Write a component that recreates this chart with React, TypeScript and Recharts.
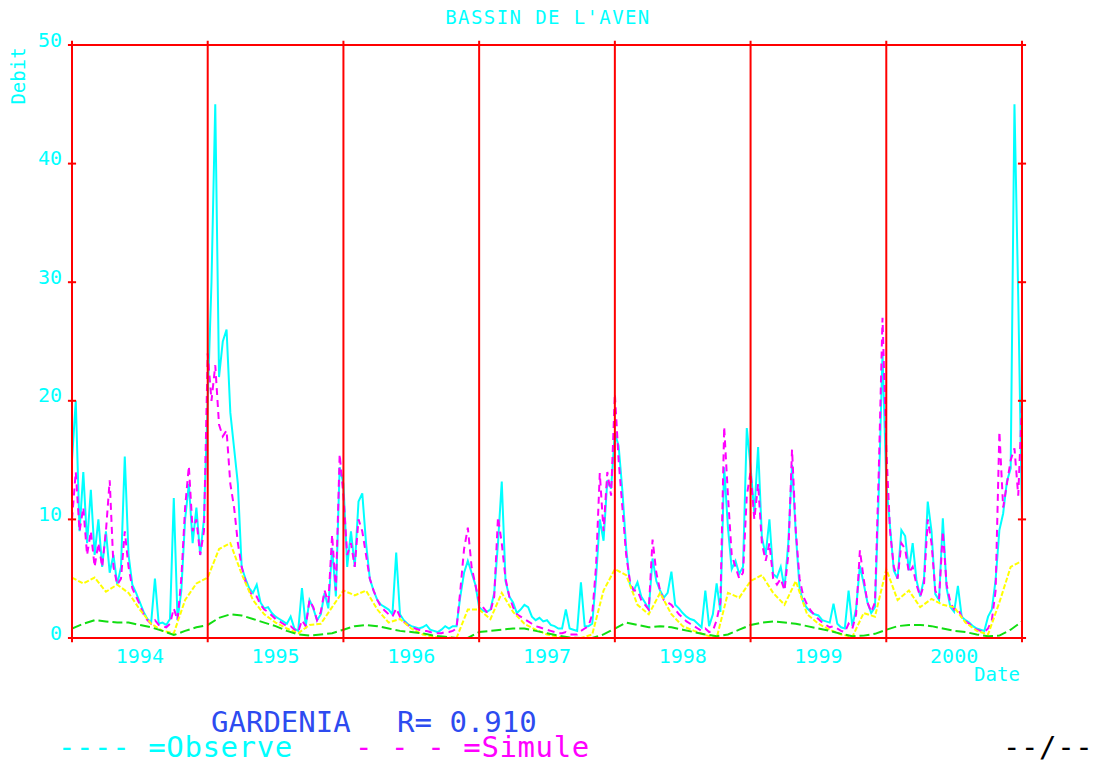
import React from 'react';
import { LineChart, Line, XAxis, YAxis, ReferenceLine } from 'recharts';

const START_YEAR = 1994;
const END_YEAR = 2001;
const yearBounds = [1994, 1995, 1996, 1997, 1998, 1999, 2000, 2001];
const yearLabels = ['1994', '1995', '1996', '1997', '1998', '1999', '2000'];
const labelPositions = [1994.5, 1995.5, 1996.5, 1997.5, 1998.5, 1999.5, 2000.5];
const yTicks = [0, 10, 20, 30, 40, 50];

// Observed discharge, one value per ten days (dekad), 1994-2000
const obsFlow = [
  15, 20, 9, 14, 8, 12.5, 7, 10, 6, 9, 5.5, 7, 4.5, 6, 15.3, 7, 4.5, 3.8, 3, 2.2, 1.6, 1.3, 5, 1.2, 1.3, 1.1, 1.6, 11.8, 1.5, 4, 10, 13, 8, 11, 7, 10,
  20, 30, 45, 22, 25, 26, 19, 16, 13, 6, 5, 4.2, 3.8, 4.5, 3, 2.5, 2.6, 2.1, 1.8, 1.6, 1.4, 1.2, 1.8, 0.8, 0.6, 4.2, 1, 3.2, 2.5, 1.5, 2, 3.8, 2.5, 7.6, 3.5, 14.4,
  13, 6, 9, 6, 11.5, 12.2, 8, 5, 4, 3.2, 2.8, 2.6, 2.4, 2, 7.2, 2, 1.5, 1.2, 1, 0.9, 0.8, 0.9, 1.1, 0.7, 0.6, 0.5, 0.7, 1, 0.8, 1, 1, 3.5, 5.5, 6.5, 5.5, 4.5,
  2.6, 2.3, 2.2, 2.4, 3.8, 8, 13.2, 4.8, 3.5, 3, 2.1, 2.4, 2.8, 2.6, 1.8, 1.5, 1.7, 1.4, 1.5, 1.1, 1, 0.8, 0.8, 2.4, 0.8, 0.7, 0.6, 4.7, 1, 1, 1.2, 5, 10, 8.2, 13.3, 12.6,
  17.3, 16.2, 12.4, 7.6, 4.5, 4, 4.7, 3.5, 3, 2.4, 6.7, 4.8, 4, 3.4, 3.8, 5.6, 2.8, 2.5, 2.1, 1.8, 1.6, 1.5, 1.2, 0.9, 4, 1, 2, 4.6, 2.2, 14.4, 9.3, 5.8, 6.5, 5.4, 6, 17.7,
  14.4, 10.5, 16.1, 8.5, 7, 10, 5.4, 5.1, 6, 4.2, 8, 14.6, 8.8, 4.2, 3, 2.5, 2.2, 2, 1.9, 1.5, 1.4, 1.3, 2.9, 1.2, 0.9, 0.8, 4, 1, 2.5, 6.1, 4.6, 3, 2.1, 2.6, 12.2, 24,
  13, 9.4, 5.7, 5, 9.1, 8.6, 5.7, 8, 4.9, 3.5, 5, 11.5, 9, 3.7, 3.2, 10.1, 4.2, 2.6, 2.2, 4.4, 1.8, 1.5, 1.3, 1, 0.8, 0.7, 0.6, 1.8, 2.4, 4.9, 9.1, 10.5, 13.2, 14.3, 45, 28.8, 10,
];

// Simulated discharge (GARDENIA), per dekad
const simFlow = [
  10, 14, 9, 11, 7, 9, 6, 8, 6, 9, 13.3, 6, 4.5, 5, 9, 6, 4.2, 3.5, 2.8, 2, 1.5, 1.2, 1.5, 1.1, 1, 0.9, 1.2, 2.5, 1.5, 5, 11, 14.5, 9, 10, 7, 9,
  24, 20, 23, 18, 17, 17.5, 13, 11, 8, 6, 4.8, 4, 3.5, 3.5, 2.8, 2.4, 2.2, 1.9, 1.6, 1.4, 1.2, 1, 1, 0.7, 0.5, 1.5, 1, 3.2, 2.6, 1.5, 2.2, 4, 3, 8.7, 4, 15.5,
  12, 7, 8, 6, 10, 9, 7, 5, 4, 3.2, 2.6, 2.3, 2, 1.8, 2.5, 1.8, 1.4, 1.1, 0.9, 0.8, 0.7, 0.6, 0.6, 0.5, 0.4, 0.4, 0.4, 0.5, 0.5, 0.6, 0.8, 4, 7.5, 9.3, 6, 4.5,
  3, 2.6, 2.2, 2.2, 3.5, 10.2, 8, 5, 3.5, 2.6, 2, 1.8, 1.6, 1.4, 1.2, 1, 0.9, 0.8, 0.7, 0.6, 0.5, 0.4, 0.4, 0.5, 0.3, 0.3, 0.3, 0.6, 0.8, 1, 2, 6, 13.9, 9, 14, 12,
  20.6, 15, 11, 7, 4.8, 4, 4, 3.2, 2.8, 2.4, 8.3, 5.5, 4, 3.2, 3, 2.8, 2.4, 2, 1.7, 1.4, 1.2, 1, 0.8, 0.6, 0.8, 0.5, 0.6, 1.5, 3, 17.8, 12, 7, 6, 5, 5.5, 12,
  14, 10, 13, 8, 6.5, 8, 5, 4.5, 5, 4, 7, 15.9, 9, 5, 3.5, 2.8, 2.3, 1.9, 1.6, 1.3, 1.1, 0.9, 1, 0.8, 0.6, 0.5, 1.2, 0.8, 2, 7.4, 5, 3, 2.2, 3, 14, 27,
  16, 9, 6, 5, 8, 7.5, 5.5, 6, 4.5, 3.5, 4.5, 10, 8, 4, 3.3, 9, 4.5, 3, 2.4, 2.5, 1.8, 1.4, 1.2, 0.9, 0.7, 0.6, 0.5, 0.8, 1.5, 4, 17.4, 11, 13, 15, 16, 12, 20,
];

// Yellow component, monthly
const baseFlow = [
  5.1, 4.6, 5.1, 3.9, 4.5, 3.8, 2.4, 1.2, 0.6, 0.4, 3.2, 4.6,
  5.1, 7.5, 8, 5.4, 3.2, 2, 1.3, 0.8, 0.4, 1.1, 1.2, 2.6,
  4, 3.6, 4, 2.4, 1.3, 1.6, 0.8, 0.3, 0.1, 0.05, 0, 2.4,
  2.4, 1.6, 3.8, 2.2, 1.2, 0.7, 0.3, 0.1, 0, 0, 0.3, 4,
  5.8, 5.3, 2.8, 2, 3.8, 2, 1, 0.6, 0.25, 0, 3.8, 3.4,
  4.8, 5.3, 3.8, 2.8, 4.8, 2, 1.2, 0.7, 0.3, 0.1, 2.1, 1.8,
  5.8, 3.2, 4, 2.6, 3.3, 2.8, 2.6, 1.3, 0.6, 0.3, 3, 6,
  6.5,
];

// Green component, monthly
const slowFlow = [
  0.8, 1.2, 1.5, 1.4, 1.3, 1.3, 1.1, 0.9, 0.6, 0.25, 0.6, 0.9,
  1.1, 1.7, 2, 1.9, 1.6, 1.3, 1, 0.6, 0.3, 0.2, 0.3, 0.4,
  0.7, 1, 1.1, 1, 0.8, 0.6, 0.5, 0.4, 0.2, 0.1, 0, 0,
  0.5, 0.6, 0.7, 0.8, 0.8, 0.6, 0.4, 0.2, 0.05, 0, 0, 0.3,
  0.8, 1.3, 1.1, 0.9, 1, 0.9, 0.7, 0.5, 0.3, 0.15, 0.3, 0.7,
  1.1, 1.3, 1.4, 1.3, 1.2, 1, 0.8, 0.6, 0.35, 0.15, 0.2, 0.35,
  0.7, 1, 1.1, 1.1, 1, 0.8, 0.6, 0.5, 0.3, 0.15, 0.2, 0.7,
  1.4,
];

const dekadData = (arr: number[]) => arr.map((v, i) => ({ t: START_YEAR + i / 36, v }));
const monthData = (arr: number[]) => arr.map((v, i) => ({ t: START_YEAR + i / 12, v }));

const obsData = dekadData(obsFlow);
const simData = dekadData(simFlow);
const baseData = monthData(baseFlow);
const slowData = monthData(slowFlow);

const FONT = "'DejaVu Sans Mono', monospace";
const CYAN = '#00FFFF';
const MAGENTA = '#FF00FF';
const RED = '#FF0000';
const YELLOW = '#FFFF00';
const GREEN = '#11DD11';
const BLUE = '#2D4BF0';

const YTick = (props: any) => {
  const { x, y, payload } = props;
  return (
    <text x={x} y={y + 1.5} textAnchor="end" fill={CYAN} fontSize={20} fontFamily={FONT}>
      {payload.value}
    </text>
  );
};

const XTick = (props: any) => {
  const { x, y, index } = props;
  return (
    <text x={x} y={y + 25} textAnchor="middle" fill={CYAN} fontSize={20} fontFamily={FONT}>
      {yearLabels[index]}
    </text>
  );
};

const TICK_HALF = 0.03;
const EXT = 0.35;

export default function App() {
  return (
    <div style={{ position: 'absolute', left: 0, top: 0, width: 1111, height: 764, background: '#fff', overflow: 'hidden' }}>
      <LineChart width={1111} height={764} margin={{ top: 45, right: 89, left: 12, bottom: 96 }}>
        <XAxis
          type="number"
          dataKey="t"
          domain={[START_YEAR, END_YEAR]}
          ticks={labelPositions}
          tick={<XTick />}
          tickLine={false}
          axisLine={false}
          tickSize={0}
          tickMargin={0}
          height={30}
          allowDataOverflow
        />
        <YAxis
          type="number"
          domain={[0, 50]}
          ticks={yTicks}
          tick={<YTick />}
          tickLine={false}
          axisLine={false}
          tickSize={0}
          tickMargin={10}
          width={60}
          allowDataOverflow
        />
        <Line data={obsData} dataKey="v" type="linear" stroke={CYAN} strokeWidth={2} dot={false} isAnimationActive={false} />
        <Line data={simData} dataKey="v" type="linear" stroke={MAGENTA} strokeWidth={2} strokeDasharray="7 5" dot={false} isAnimationActive={false} />
        <Line data={baseData} dataKey="v" type="linear" stroke={YELLOW} strokeWidth={2} strokeDasharray="5 2" dot={false} isAnimationActive={false} />
        <Line data={slowData} dataKey="v" type="linear" stroke={GREEN} strokeWidth={2} strokeDasharray="10 4" dot={false} isAnimationActive={false} />
        {yearBounds.map((yr) => (
          <ReferenceLine
            key={'v' + yr}
            segment={[{ x: yr, y: -EXT }, { x: yr, y: 50 + EXT }]}
            stroke={RED}
            strokeWidth={2}
            ifOverflow="visible"
          />
        ))}
        {[0, 50].map((yv) => (
          <ReferenceLine
            key={'h' + yv}
            segment={[{ x: START_YEAR, y: yv }, { x: END_YEAR, y: yv }]}
            stroke={RED}
            strokeWidth={2}
            ifOverflow="visible"
          />
        ))}
        {yTicks.map((yv) => (
          <ReferenceLine
            key={'tl' + yv}
            segment={[{ x: START_YEAR - TICK_HALF, y: yv }, { x: START_YEAR + TICK_HALF, y: yv }]}
            stroke={RED}
            strokeWidth={2}
            ifOverflow="visible"
          />
        ))}
        {yTicks.map((yv) => (
          <ReferenceLine
            key={'tr' + yv}
            segment={[{ x: END_YEAR - TICK_HALF, y: yv }, { x: END_YEAR + TICK_HALF, y: yv }]}
            stroke={RED}
            strokeWidth={2}
            ifOverflow="visible"
          />
        ))}
      </LineChart>
      <svg width={1111} height={764} style={{ position: 'absolute', left: 0, top: 0, pointerEvents: 'none' }}>
        <text x={548} y={24} textAnchor="middle" fill={CYAN} fontSize={19} letterSpacing={1.4} fontFamily={FONT}>
          BASSIN DE L'AVEN
        </text>
        <text x={25} y={76} transform="rotate(-90 25 76)" textAnchor="middle" fill={CYAN} fontSize={19} fontFamily={FONT}>
          Debit
        </text>
        <text x={997} y={681} textAnchor="middle" fill={CYAN} fontSize={19} fontFamily={FONT}>
          Date
        </text>
        <text x={211} y={732} fill={BLUE} fontSize={29} fontFamily={FONT}>
          GARDENIA
        </text>
        <text x={397} y={732} fill={BLUE} fontSize={29} fontFamily={FONT}>
          R= 0.910
        </text>
        <text x={58} y={757} fill={CYAN} fontSize={29} letterSpacing={0.6} fontFamily={FONT}>
          ---- =Observe
        </text>
        <text x={355} y={757} fill={MAGENTA} fontSize={29} letterSpacing={0.6} fontFamily={FONT}>
          - - - =Simule
        </text>
        <text x={1003} y={757} fill="#000000" fontSize={29} letterSpacing={0.6} fontFamily={FONT}>
          --/--
        </text>
      </svg>
    </div>
  );
}
